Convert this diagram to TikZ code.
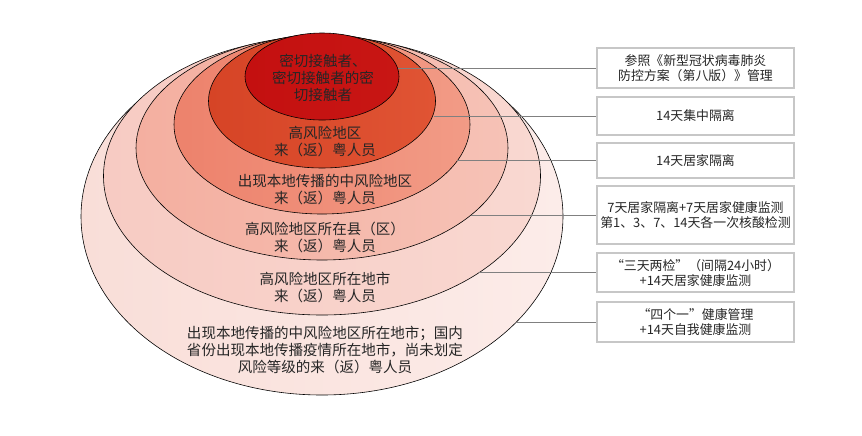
\documentclass[tikz,border=0pt]{standalone}
\usepackage{fontspec}
\newfontfamily\cjk{Noto Sans CJK SC}
\usepackage{tikz}
\definecolor{ringAl}{RGB}{196,16,16}
\definecolor{ringAr}{RGB}{200,22,20}
\definecolor{ringBl}{RGB}{214,68,38}
\definecolor{ringBr}{RGB}{224,84,52}
\definecolor{ringCl}{RGB}{237,130,108}
\definecolor{ringCr}{RGB}{242,155,134}
\definecolor{ringDl}{RGB}{244,175,160}
\definecolor{ringDr}{RGB}{246,194,182}
\definecolor{ringEl}{RGB}{247,203,195}
\definecolor{ringEr}{RGB}{249,216,209}
\definecolor{ringFl}{RGB}{249,222,216}
\definecolor{ringFr}{RGB}{252,236,233}
\tikzset{
    ring/.style={draw=black, line width=0.5pt},
    ringtext/.style={font=\cjk\fontsize{12.4}{14.5}\selectfont, text=black!85, align=center},
    infobox/.style={draw=black!22, line width=1.2pt, fill=white, minimum width=5.91cm,
        inner sep=0pt, font=\cjk\fontsize{11}{12.8}\selectfont, text=black!85, align=center},
    leader/.style={draw=black!50, line width=0.6pt},
}

\begin{document}
\begin{tikzpicture}[x=0.03cm, y=-0.03cm]
\useasboundingbox (0,0) rectangle (862,435);
\foreach \cy/\rx/\ry/\lc/\rc in {216.5/241/178.5/ringFl/ringFr, 176/218.5/139/ringEl/ringEr,
    148/186/112/ringDl/ringDr, 124.5/148/89.5/ringCl/ringCr, 101/113.5/67/ringBl/ringBr,
    76.5/77/43.5/ringAl/ringAr} {
\draw[ring, left color=\lc, right color=\rc] (322,\cy) ellipse [x radius=\rx, y radius=\ry];
}
\node[ringtext] (t1) at (323,77.5) {密切接触者、\\密切接触者的密\\切接触者};
\node[ringtext] (t2) at (325,141.5) {高风险地区\\来（返）粤人员};
\node[ringtext] (t3) at (325,190) {出现本地传播的中风险地区\\来（返）粤人员};
\node[ringtext] (t4) at (325,237) {高风险地区所在县（区）\\来（返）粤人员};
\node[ringtext] (t5) at (325,288) {高风险地区所在地市\\来（返）粤人员};
\node[ringtext] (t6) at (325,350) {出现本地传播的中风险地区所在地市；国内\\省份出现本地传播疫情所在地市，尚未划定\\风险等级的来（返）粤人员};
\node[infobox, minimum height=1.2cm] (b1) at (695.5,68) {参照《新型冠状病毒肺炎\\防控方案（第八版）》管理};
\node[infobox, minimum height=1.14cm] (b2) at (695.5,116) {14天集中隔离};
\node[infobox, minimum height=1.05cm] (b3) at (695.5,160.5) {14天居家隔离};
\node[infobox, minimum height=1.74cm] (b4) at (695.5,215) {7天居家隔离+7天居家健康监测\\第1、3、7、14天各一次核酸检测};
\node[infobox, minimum height=1.17cm] (b5) at (695.5,272.5) {“三天两检”（间隔24小时）\\+14天居家健康监测};
\node[infobox, minimum height=1.2cm] (b6) at (695.5,322) {“四个一”健康管理\\+14天自我健康监测};
\coordinate (s1) at (398,68);
\coordinate (s2) at (434,116);
\coordinate (s3) at (457,160.5);
\coordinate (s4) at (471,215);
\coordinate (s5) at (479,272.5);
\coordinate (s6) at (517,322);
\foreach \i in {1,...,6} {
\draw[leader] (s\i) -- (s\i -| b\i.west);
}
\end{tikzpicture}
\end{document}
